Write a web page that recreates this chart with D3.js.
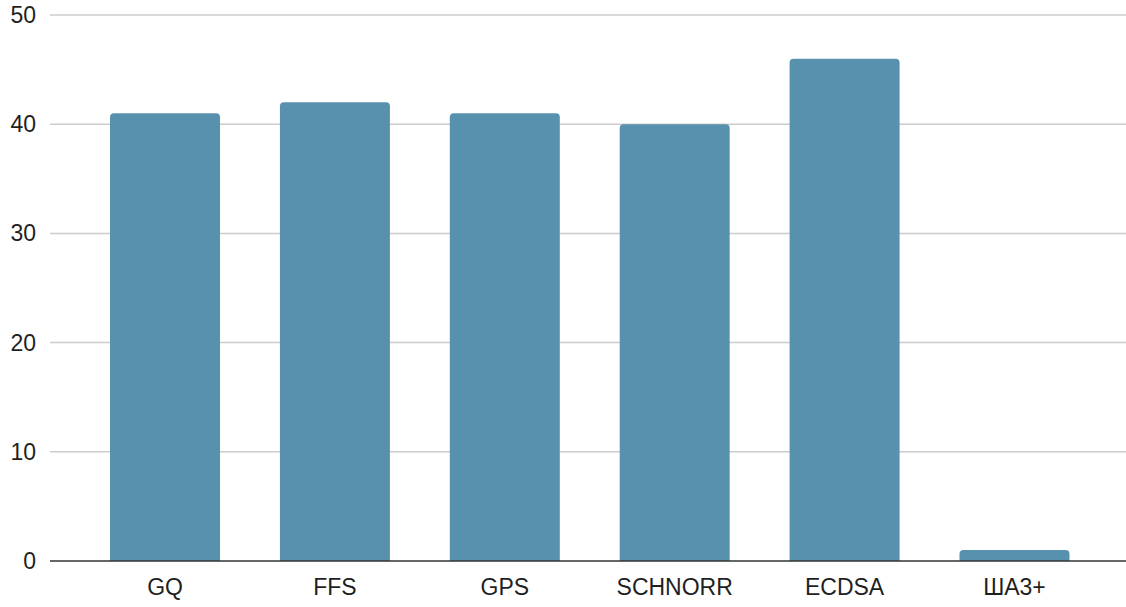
<!DOCTYPE html>
<html>
<head>
<meta charset="utf-8">
<script src="https://cdn.jsdelivr.net/npm/d3@7"></script>
<style>
  html, body { margin: 0; padding: 0; background: #fff; }
  svg text { font-family: Arial, "Liberation Sans", sans-serif; fill: #1f1f1f; }
</style>
</head>
<body>
<svg id="chart" width="1126" height="607"></svg>
<script>
const categories = ["GQ", "FFS", "GPS", "SCHNORR", "ECDSA", "ША3+"];
const values = [41, 42, 41, 40, 46, 1];
const yTicks = [0, 10, 20, 30, 40, 50];

const W = 1126, H = 607;
const margin = { top: 15, right: 0, bottom: 46, left: 50 };
const svg = d3.select("#chart");

const x = d3.scaleBand()
  .domain(categories)
  .range([margin.left, W - margin.right])
  .paddingInner(0.3526)
  .paddingOuter(0.343)
  .align(0.515);

const y = d3.scaleLinear()
  .domain([0, 50])
  .range([H - margin.bottom, margin.top]);

// horizontal gridlines
svg.append("g")
  .selectAll("line")
  .data(yTicks.filter(d => d !== 0))
  .join("line")
  .attr("x1", margin.left)
  .attr("x2", W - margin.right)
  .attr("y1", d => y(d))
  .attr("y2", d => y(d))
  .attr("stroke", "#cccccc")
  .attr("stroke-width", 1.5);

// y tick labels
svg.append("g")
  .selectAll("text")
  .data(yTicks)
  .join("text")
  .attr("x", 36)
  .attr("y", d => y(d))
  .attr("dy", "0.35em")
  .attr("text-anchor", "end")
  .attr("font-size", 23)
  .text(d => d);

// bars with rounded top corners
const r = 4;
svg.append("g")
  .selectAll("path")
  .data(values)
  .join("path")
  .attr("fill", "#5891ad")
  .attr("d", (d, i) => {
    const x0 = x(categories[i]), w = x.bandwidth();
    const y0 = y(d), yb = y(0);
    const rr = Math.min(r, (yb - y0) / 2);
    return `M${x0},${yb}V${y0 + rr}Q${x0},${y0} ${x0 + rr},${y0}` +
           `H${x0 + w - rr}Q${x0 + w},${y0} ${x0 + w},${y0 + rr}V${yb}Z`;
  });

// baseline
svg.append("line")
  .attr("x1", margin.left)
  .attr("x2", W - margin.right)
  .attr("y1", y(0))
  .attr("y2", y(0))
  .attr("stroke", "#333")
  .attr("stroke-width", 1.5);

// x category labels
svg.append("g")
  .selectAll("text")
  .data(categories)
  .join("text")
  .attr("x", d => x(d) + x.bandwidth() / 2)
  .attr("y", y(0) + 26)
  .attr("dy", "0.35em")
  .attr("text-anchor", "middle")
  .attr("font-size", 23)
  .text(d => d);
</script>
</body>
</html>
